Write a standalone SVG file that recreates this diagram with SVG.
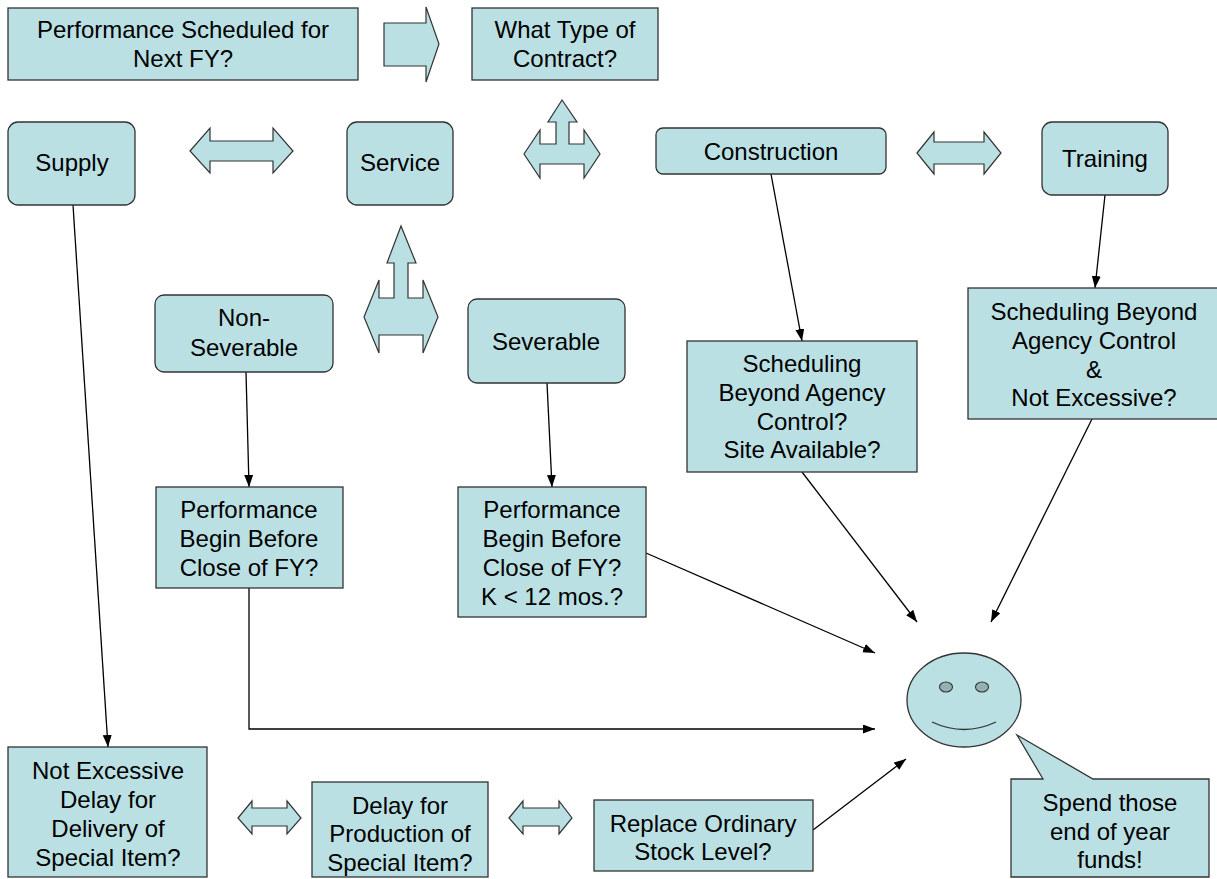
<svg xmlns="http://www.w3.org/2000/svg" width="1217" height="879" viewBox="0 0 1217 879">
<style>
.box{fill:#BBE0E3;stroke:#333;stroke-width:1.3}
.shape{fill:#BBE0E3;stroke:#333;stroke-width:1.2;stroke-linejoin:miter}
.t{font-family:"Liberation Sans",Arial,sans-serif;font-size:24px;fill:#000;text-anchor:middle}
.c{fill:none;stroke:#000;stroke-width:1.3}
</style>
<defs>
<marker id="ah" markerUnits="userSpaceOnUse" markerWidth="13" markerHeight="10" refX="12" refY="4.5" orient="auto">
<path d="M0,0 L12,4.5 L0,9 Z" fill="#000"/>
</marker>
</defs>
<rect width="1217" height="879" fill="#fff"/>

<g id="block-arrows">
<path class="shape" d="M384,23 L426,23 L426,7 L439,44 L426,82 L426,66 L384,66 Z"/>
<path class="shape" d="M190,151 L210,128 L210,141 L273,141 L273,128 L293,151 L273,173 L273,161 L210,161 L210,173 Z"/>
<path class="shape" d="M524,154 L540,130 L540,144 L556,144 L556,122 L548,122 L562,100 L577,122 L569,122 L569,144 L584,144 L584,130 L600,154 L584,178 L584,164 L540,164 L540,178 Z"/>
<path class="shape" d="M917,153 L934,132 L934,142 L984,142 L984,132 L1001,153 L984,174 L984,164 L934,164 L934,174 Z"/>
<path class="shape" d="M364,317 L379,280 L379,298 L394,298 L394,263 L387,263 L401,226 L416,263 L408,263 L408,298 L423,298 L423,280 L438,317 L423,353 L423,335 L379,335 L379,353 Z"/>
<path class="shape" d="M238,818 L252,801 L252,808 L287,808 L287,801 L301,818 L287,834 L287,826 L252,826 L252,834 Z"/>
<path class="shape" d="M509,818 L523,801 L523,808 L559,808 L559,801 L572,818 L559,834 L559,826 L523,826 L523,834 Z"/>
</g>

<g id="connectors">
<line class="c" x1="73" y1="205" x2="108" y2="747" marker-end="url(#ah)"/>
<line class="c" x1="771" y1="174" x2="802" y2="341" marker-end="url(#ah)"/>
<line class="c" x1="1105" y1="195" x2="1095" y2="288" marker-end="url(#ah)"/>
<line class="c" x1="246" y1="372" x2="249" y2="487" marker-end="url(#ah)"/>
<line class="c" x1="547" y1="383" x2="552" y2="487" marker-end="url(#ah)"/>
<line class="c" x1="802" y1="472" x2="917" y2="622" marker-end="url(#ah)"/>
<line class="c" x1="1092" y1="419" x2="991" y2="622" marker-end="url(#ah)"/>
<line class="c" x1="646" y1="553" x2="875" y2="653" marker-end="url(#ah)"/>
<polyline class="c" points="249,588 249,729 875,729" marker-end="url(#ah)"/>
<line class="c" x1="813" y1="830" x2="906" y2="759" marker-end="url(#ah)"/>
</g>

<g id="n-perf-next">
<rect class="box" x="8" y="8" width="350" height="72"/>
<text class="t" x="183" y="38">Performance Scheduled for</text>
<text class="t" x="183" y="67">Next FY?</text>
</g>
<g id="n-type">
<rect class="box" x="472" y="8" width="186" height="72"/>
<text class="t" x="565" y="38">What Type of</text>
<text class="t" x="565" y="67">Contract?</text>
</g>
<g id="n-supply">
<rect class="box" x="8" y="122" width="127" height="83" rx="10"/>
<text class="t" x="72" y="171">Supply</text>
</g>
<g id="n-service">
<rect class="box" x="347" y="122" width="106" height="83" rx="10"/>
<text class="t" x="400" y="171">Service</text>
</g>
<g id="n-construction">
<rect class="box" x="656" y="128" width="230" height="46" rx="7"/>
<text class="t" x="771" y="160">Construction</text>
</g>
<g id="n-training">
<rect class="box" x="1042" y="122" width="126" height="73" rx="10"/>
<text class="t" x="1105" y="167">Training</text>
</g>
<g id="n-nonsev">
<rect class="box" x="155" y="295" width="178" height="77" rx="9"/>
<text class="t" x="244" y="326">Non-</text>
<text class="t" x="244" y="356">Severable</text>
</g>
<g id="n-sev">
<rect class="box" x="468" y="299" width="157" height="84" rx="9"/>
<text class="t" x="546" y="350">Severable</text>
</g>
<g id="n-constr-sched">
<rect class="box" x="687" y="341" width="230" height="131"/>
<text class="t" x="802" y="372">Scheduling</text>
<text class="t" x="802" y="401">Beyond Agency</text>
<text class="t" x="802" y="430">Control?</text>
<text class="t" x="802" y="458">Site Available?</text>
</g>
<g id="n-train-sched">
<rect class="box" x="968" y="288" width="254" height="131"/>
<text class="t" x="1094" y="320">Scheduling Beyond</text>
<text class="t" x="1094" y="349">Agency Control</text>
<text class="t" x="1094" y="378">&amp;</text>
<text class="t" x="1094" y="406">Not Excessive?</text>
</g>
<g id="n-nonsev-perf">
<rect class="box" x="156" y="487" width="187" height="101"/>
<text class="t" x="249" y="518">Performance</text>
<text class="t" x="249" y="547">Begin Before</text>
<text class="t" x="249" y="576">Close of FY?</text>
</g>
<g id="n-sev-perf">
<rect class="box" x="458" y="487" width="188" height="130"/>
<text class="t" x="552" y="518">Performance</text>
<text class="t" x="552" y="547">Begin Before</text>
<text class="t" x="552" y="576">Close of FY?</text>
<text class="t" x="552" y="605">K &lt; 12 mos.?</text>
</g>
<g id="n-smiley">
<ellipse cx="964" cy="700" rx="57" ry="47" fill="#BBE0E3" stroke="#333" stroke-width="1.3"/>
<ellipse cx="946" cy="687" rx="6.5" ry="5" fill="#93B2B4" stroke="#333" stroke-width="1.1"/>
<ellipse cx="982" cy="687" rx="6.5" ry="5" fill="#93B2B4" stroke="#333" stroke-width="1.1"/>
<path d="M932,722 Q964,737 996,722" fill="none" stroke="#333" stroke-width="1.3"/>
</g>
<g id="n-callout">
<path class="box" d="M1011,779 L1043,779 L1017,735 L1093,779 L1209,779 L1209,877 L1011,877 Z"/>
<text class="t" x="1110" y="811">Spend those</text>
<text class="t" x="1110" y="840">end of year</text>
<text class="t" x="1110" y="868">funds!</text>
</g>
<g id="n-not-excessive">
<rect class="box" x="8" y="747" width="199" height="130"/>
<text class="t" x="108" y="779">Not Excessive</text>
<text class="t" x="108" y="808">Delay for</text>
<text class="t" x="108" y="837">Delivery of</text>
<text class="t" x="108" y="866">Special Item?</text>
</g>
<g id="n-delay">
<rect class="box" x="312" y="782" width="176" height="95"/>
<text class="t" x="400" y="814">Delay for</text>
<text class="t" x="400" y="842">Production of</text>
<text class="t" x="400" y="871">Special Item?</text>
</g>
<g id="n-replace">
<rect class="box" x="594" y="800" width="219" height="71"/>
<text class="t" x="703" y="832">Replace Ordinary</text>
<text class="t" x="703" y="860">Stock Level?</text>
</g>
</svg>
